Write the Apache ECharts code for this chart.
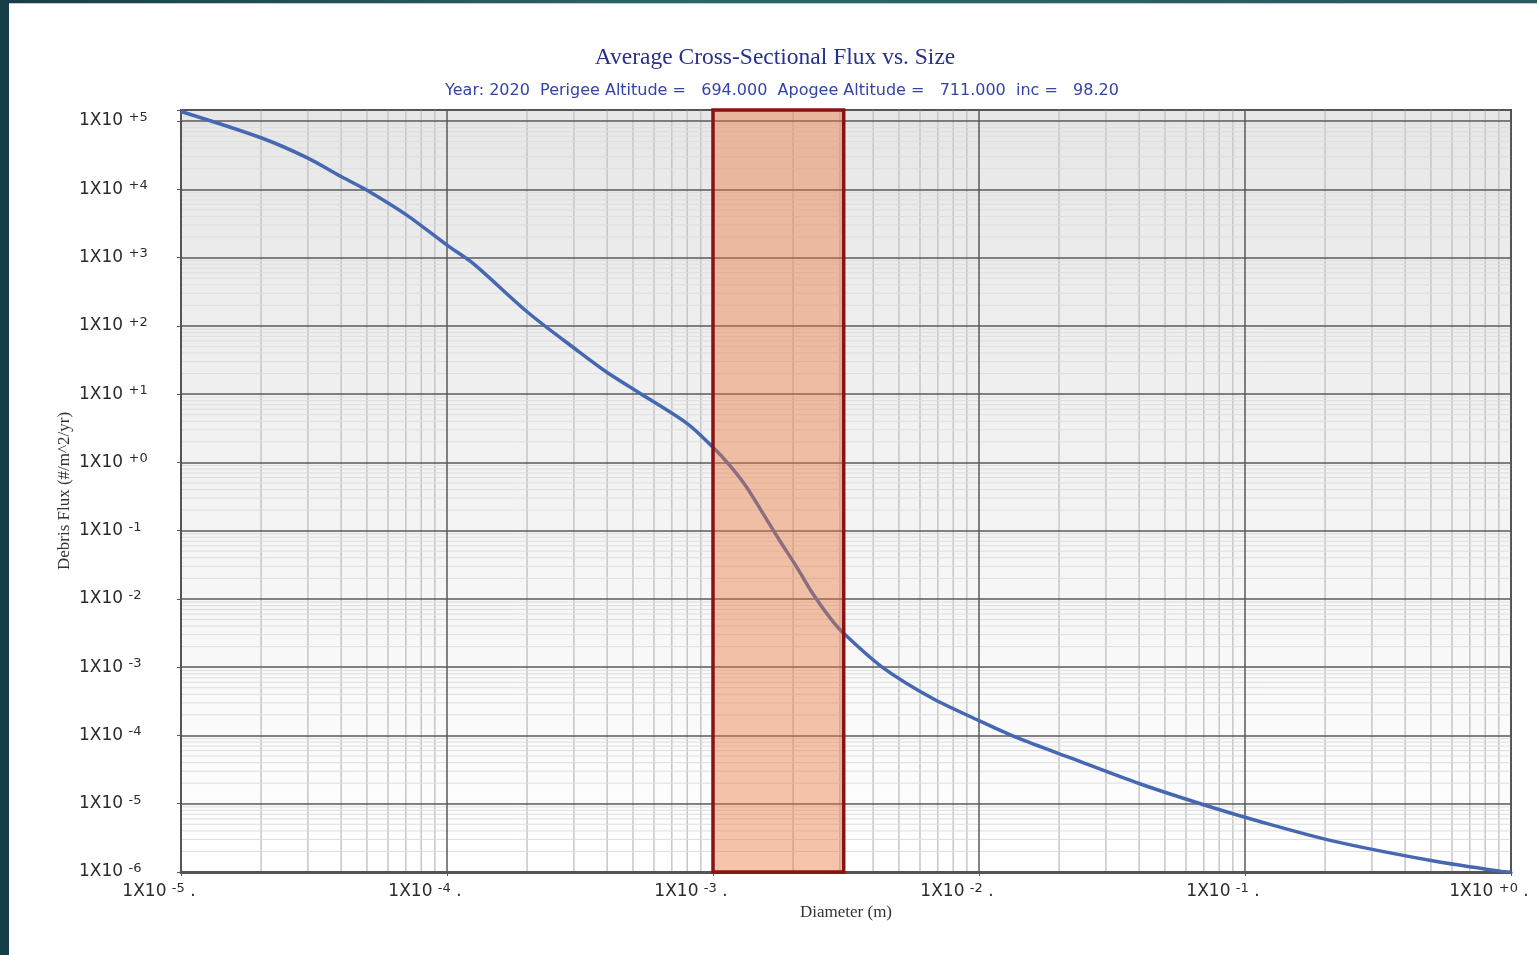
<!DOCTYPE html>
<html>
<head>
<meta charset="utf-8">
<script src="https://cdn.jsdelivr.net/npm/echarts@6/dist/echarts.min.js"></script>
<style>
html,body{margin:0;padding:0;width:1537px;height:955px;overflow:hidden;background:#1d4d57;}
#frame{position:absolute;left:0;top:0;width:1537px;height:955px;background:linear-gradient(90deg,#163e49 0%,#2b6668 45%,#245a62 100%);}
#line{position:absolute;left:9px;top:3px;width:1528px;height:1px;background:#c9c9c9;}
#main{position:absolute;left:9px;top:4px;width:1528px;height:951px;background:#ffffff;}
</style>
</head>
<body>
<div id="frame"></div>
<div id="line"></div>
<div id="main"></div>
<script>
// ---- data ----
const diameterM = [1.0e-5, 2.01e-5, 3.0e-5, 4.03e-5, 5.0e-5, 7.06e-5, 1.0e-4, 1.25e-4, 2.01e-4, 3.08e-4,
  3.99e-4, 5.31e-4, 7.98e-4, 1.0e-3, 1.156e-3, 1.34e-3, 1.54e-3, 1.78e-3, 2.07e-3, 2.37e-3,
  2.75e-3, 3.08e-3, 4.35e-3, 6.70e-3, 1.0e-2, 1.39e-2, 2.25e-2, 4.02e-2, 7.18e-2, 0.111,
  0.213, 0.507, 0.906, 1.0];
const fluxPerM2Yr = [1.38e5, 5.64e4, 2.86e4, 1.51e4, 9.7e3, 4.19e3, 1.52e3, 828, 158, 43.9,
  20.9, 10.3, 3.73, 1.66, 0.904, 0.430, 0.179, 0.0718, 0.0288, 0.0120,
  5.33e-3, 3.21e-3, 9.86e-4, 3.47e-4, 1.65e-4, 9.29e-5, 4.57e-5, 1.96e-5, 9.35e-6, 5.64e-6,
  2.86e-6, 1.46e-6, 1.03e-6, 1.0e-6];
const highlightDiameter = [1.0e-3, 3.1e-3];
const xRange = [1e-5, 1];
const yRange = [1e-6, 1.45e5];
const xDecades = [-5, -4, -3, -2, -1];
const yDecades = [-6, -5, -4, -3, -2, -1, 0, 1, 2, 3, 4];
const minorMultipliers = [2, 3, 4, 5, 6, 7, 8, 9];

const titleText = 'Average Cross-Sectional Flux vs. Size';
const subtitleText = 'Year: 2020  Perigee Altitude =   694.000  Apogee Altitude =   711.000  inc =   98.20';
const xName = 'Diameter (m)';
const yName = 'Debris Flux (#/m^2/yr)';

const seriesData = diameterM.map((d, i) => [d, fluxPerM2Yr[i]]);

// minor grid lines (2..9 x 10^k), drawn as broken line series through the log axes
const minorX = [];
xDecades.forEach(k => minorMultipliers.forEach(m => {
  const v = m * Math.pow(10, k);
  minorX.push([v, yRange[0]], [v, yRange[1]], [v, '-']);
}));
const minorY = [];
yDecades.forEach(k => minorMultipliers.forEach(m => {
  const v = m * Math.pow(10, k);
  minorY.push([xRange[0], v], [xRange[1], v], ['-', v]);
}));

function expPart(v) {
  const e = Math.log10(v);
  const r = Math.round(e);
  if (Math.abs(e - r) > 1e-6) return null;
  return (r >= 0 ? '+' : '-') + Math.abs(r);
}

const labelRich = {
  b: { fontFamily: 'DejaVu Sans', fontSize: 17, color: '#2b2b2b', lineHeight: 20 },
  s: { fontFamily: 'DejaVu Sans', fontSize: 13, color: '#2b2b2b', lineHeight: 13, verticalAlign: 'top' },
  gap: { width: 44, lineHeight: 20 }
};

const chart = echarts.init(document.getElementById('main'), null, { renderer: 'canvas' });
chart.setOption({
  animation: false,
  backgroundColor: '#ffffff',
  graphic: [
    { type: 'text', x: 766, y: 54, style: { text: titleText, textAlign: 'center', textVerticalAlign: 'middle',
      font: '23.5px "Liberation Serif", "Times New Roman", serif', fill: '#27308c' } },
    { type: 'text', x: 773, y: 87, style: { text: subtitleText, textAlign: 'center', textVerticalAlign: 'middle',
      font: '16px "DejaVu Sans", Verdana, sans-serif', fill: '#3343a8' } }
  ],
  grid: {
    left: 172, top: 106, width: 1330, height: 762,
    outerBoundsMode: 'none', containLabel: false,
    show: true,
    borderColor: '#444444', borderWidth: 2,
    backgroundColor: new echarts.graphic.LinearGradient(0, 0, 0, 1, [
      { offset: 0, color: '#e7e7e7' }, { offset: 1, color: '#ffffff' }
    ])
  },
  xAxis: {
    type: 'log', logBase: 10, min: xRange[0], max: xRange[1], z: 2,
    name: xName, nameLocation: 'middle', nameGap: 32, nameMoveOverlap: false,
    nameTextStyle: { fontFamily: 'Liberation Serif', fontSize: 17, color: '#333333' },
    axisLine: { show: true, lineStyle: { color: '#555555', width: 3 } },
    axisTick: { show: true, length: 4, lineStyle: { color: '#555555' } },
    splitLine: { show: true, lineStyle: { color: '#5a5a5a', width: 1.5 } },
    axisLabel: {
      margin: 10, align: 'center', hideOverlap: false, showMinLabel: true, showMaxLabel: true,
      formatter: v => { const p = expPart(v); return p === null ? '' : '{b|1X10 }{s|' + p + '}{b| .}{gap|}'; },
      rich: labelRich
    }
  },
  yAxis: {
    type: 'log', logBase: 10, min: yRange[0], max: yRange[1], interval: 1, z: 2,
    name: yName, nameLocation: 'middle', nameGap: 108, nameRotate: 90, nameMoveOverlap: false,
    nameTextStyle: { fontFamily: 'Liberation Serif', fontSize: 17, color: '#333333' },
    axisLine: { show: true, lineStyle: { color: '#555555', width: 2 } },
    axisTick: { show: true, length: 4, lineStyle: { color: '#555555' } },
    splitLine: { show: true, lineStyle: { color: '#5a5a5a', width: 1.5 } },
    axisLabel: {
      margin: 102, align: 'left', hideOverlap: false, showMinLabel: true,
      formatter: v => { const p = expPart(v); return p === null ? '' : '{b|1X10 }{s|' + p + '}'; },
      rich: labelRich
    }
  },
  series: [
    {
      type: 'line', data: minorX, z: 1, silent: true, showSymbol: false, symbol: 'none',
      connectNulls: false, lineStyle: { color: '#c6c6c6', width: 1.5 }, emphasis: { disabled: true }
    },
    {
      type: 'line', data: minorY, z: 1, silent: true, showSymbol: false, symbol: 'none',
      connectNulls: false, lineStyle: { color: '#dedede', width: 1 }, emphasis: { disabled: true }
    },
    {
      type: 'line',
      data: seriesData,
      z: 3,
      smooth: 0.3,
      showSymbol: false,
      symbol: 'none',
      lineStyle: { color: '#4668b2', width: 3.5 },
      markArea: {
        z: 10, silent: true, label: { show: false },
        itemStyle: { color: 'rgba(232,118,60,0.43)', borderColor: '#8a1212', borderWidth: 3.5 },
        data: [[{ xAxis: highlightDiameter[0], yAxis: yRange[1] }, { xAxis: highlightDiameter[1], yAxis: yRange[0] }]]
      }
    }
  ]
});
</script>
</body>
</html>
